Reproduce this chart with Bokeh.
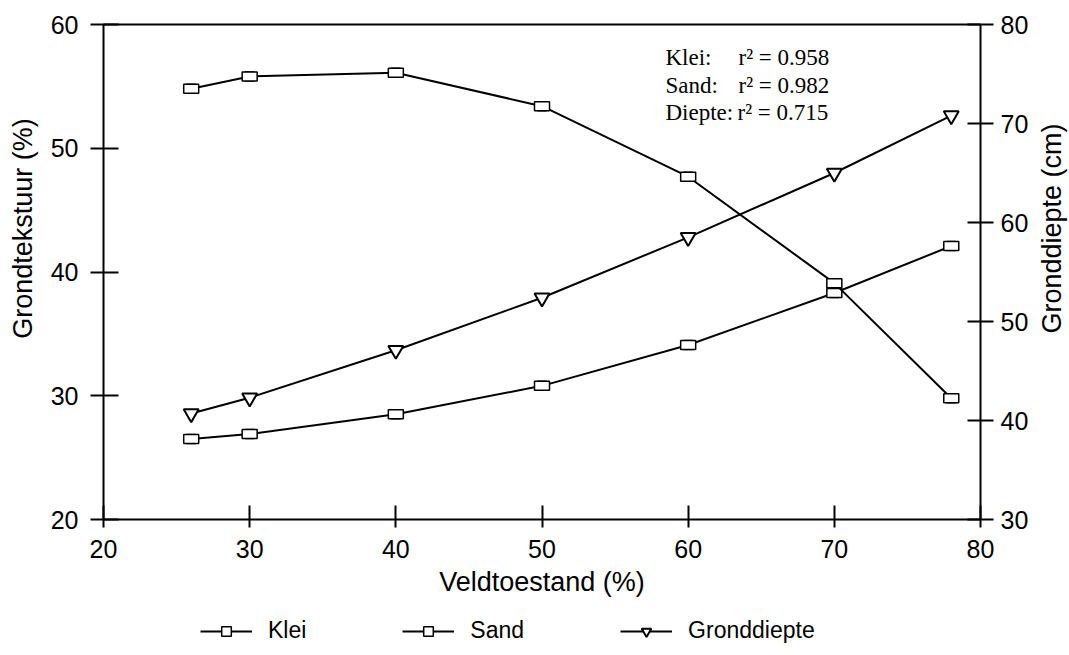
from bokeh.plotting import figure
from bokeh.models import Range1d, LinearAxis, Label, Legend, LegendItem, FixedTicker
from bokeh.embed import file_html
from bokeh.resources import INLINE

# ---- data ----
veld = [26, 30, 40, 50, 60, 70, 78]
klei = [26.5, 26.9, 28.5, 30.8, 34.1, 38.3, 42.1]
sand = [54.8, 55.8, 56.1, 53.4, 47.7, 39.1, 29.8]
diepte = [40.7, 42.3, 47.1, 52.4, 58.5, 65.0, 70.8]

x_ticks = [20, 30, 40, 50, 60, 70, 80]
left_ticks = [20, 30, 40, 50, 60]
right_ticks = [30, 40, 50, 60, 70, 80]

series_names = ["Klei", "Sand", "Gronddiepte"]
stat_names = ["Klei:", "Sand:", "Diepte:"]
stat_r2 = ["0.958", "0.982", "0.715"]

FONT = "Liberation Sans"
SERIF = "Liberation Serif"

# canvas layout: the drawn box spans x 20..80 and y 20..60 (right 30..80);
# the frame covers the whole canvas so that titles and legend are inside it.
W, H = 1068, 654
BOX_L, BOX_R, BOX_T, BOX_B = 103, 980, 24, 519
xs = (80 - 20) / (BOX_R - BOX_L)
ys = (60 - 20) / (BOX_B - BOX_T)
rs = (80 - 30) / (BOX_B - BOX_T)
x_range = Range1d(20 - BOX_L * xs, 80 + (W - BOX_R) * xs)
y_range = Range1d(20 - (H - BOX_B) * ys, 60 + BOX_T * ys)
r_range = Range1d(30 - (H - BOX_B) * rs, 80 + BOX_T * rs)


def px_x(px):
    return 20 + (px - BOX_L) * xs


def px_y(py):
    return 60 - (py - BOX_T) * ys


p = figure(width=W, height=H, x_range=x_range, y_range=y_range,
           output_backend="svg", toolbar_location=None,
           min_border_left=0, min_border_right=0, min_border_top=0, min_border_bottom=0)
p.extra_y_ranges = {"diepte": r_range}
p.add_layout(LinearAxis(y_range_name="diepte"), "right")
p.add_layout(LinearAxis(), "above")

p.xgrid.visible = False
p.ygrid.visible = False
p.outline_line_color = None
p.background_fill_color = "white"
p.border_fill_color = "white"

for ax in p.axis:
    ax.axis_line_width = 2
    ax.axis_line_color = "black"
    ax.major_tick_line_width = 2
    ax.major_tick_line_color = "black"
    ax.minor_tick_in = 0
    ax.minor_tick_out = 0
    ax.major_label_text_font = FONT
    ax.major_label_text_font_size = "25px"
    ax.major_label_text_color = "black"
    ax.axis_label_text_font = FONT
    ax.axis_label_text_font_size = "27px"
    ax.axis_label_text_font_style = "normal"
    ax.axis_label_text_color = "black"

bottom_ax = p.below[0]
top_ax = p.above[0]
left_ax = p.left[0]
right_ax = p.right[0]

bottom_ax.fixed_location = 20
bottom_ax.bounds = (20, 80)
bottom_ax.ticker = FixedTicker(ticks=x_ticks)
bottom_ax.major_tick_in = 14
bottom_ax.major_tick_out = 8
bottom_ax.major_label_standoff = 12
bottom_ax.axis_label = "Veldtoestand (%)"
bottom_ax.axis_label_standoff = 6

top_ax.fixed_location = 60
top_ax.bounds = (20, 80)
top_ax.ticker = FixedTicker(ticks=[])
top_ax.major_tick_in = 0
top_ax.major_tick_out = 0
top_ax.major_label_text_font_size = "0px"

left_ax.fixed_location = 20
left_ax.bounds = (20, 60)
left_ax.ticker = FixedTicker(ticks=left_ticks)
left_ax.major_tick_in = 15
left_ax.major_tick_out = 13
left_ax.major_label_standoff = 12

right_ax.fixed_location = 80
right_ax.bounds = (30, 80)
right_ax.ticker = FixedTicker(ticks=right_ticks)
right_ax.major_tick_in = 13
right_ax.major_tick_out = 13
right_ax.major_label_standoff = 7

# ---- series ----
k_line = p.line(veld, klei, line_color="black", line_width=2)
k_sq = p.scatter(veld, klei, marker="square", size=9, fill_color="white", line_color="black", line_width=1.5)
p.rect(veld, klei, width=15, height=9, width_units="screen", height_units="screen",
       fill_color="white", line_color="black", line_width=1.5)

s_line = p.line(veld, sand, line_color="black", line_width=2)
s_sq = p.scatter(veld, sand, marker="square", size=9, fill_color="white", line_color="black", line_width=1.5)
p.rect(veld, sand, width=15, height=9, width_units="screen", height_units="screen",
       fill_color="white", line_color="black", line_width=1.5)

d_line = p.line(veld, diepte, line_color="black", line_width=2, y_range_name="diepte")
d_tri = p.scatter(veld, diepte, marker="inverted_triangle", size=15, fill_color="white",
                  line_color="black", line_width=2, y_range_name="diepte")

legend = Legend(items=[
    LegendItem(label=series_names[0], renderers=[k_line, k_sq]),
    LegendItem(label=series_names[1], renderers=[s_line, s_sq]),
    LegendItem(label=series_names[2], renderers=[d_line, d_tri]),
], orientation="horizontal", location=(200, 10), glyph_width=52, glyph_height=24,
    label_standoff=16, spacing=96, border_line_alpha=0, background_fill_alpha=0,
    padding=0, margin=0, label_text_font=FONT, label_text_font_size="23px",
    label_text_color="black")
p.add_layout(legend, "center")

# ---- y axis titles (reading bottom-to-top) ----
p.add_layout(Label(x=px_x(22), y=px_y(228), text="Grondtekstuur (%)", angle=90,
                   angle_units="deg", text_align="center", text_baseline="middle",
                   text_font=FONT, text_font_size="27px", text_color="black"))
p.add_layout(Label(x=px_x(1051), y=px_y(228), text="Gronddiepte (cm)", angle=90,
                   angle_units="deg", text_align="center", text_baseline="middle",
                   text_font=FONT, text_font_size="27px", text_color="black"))

# ---- r² annotation ----
name_px = 665
r_px = [738, 738, 737]
row_py = [57, 85, 112]
for i in range(3):
    p.add_layout(Label(x=px_x(name_px), y=px_y(row_py[i]), text=stat_names[i], text_font=SERIF,
                       text_font_size="23px", text_baseline="middle", text_color="black"))
    p.add_layout(Label(x=px_x(r_px[i]), y=px_y(row_py[i]), text="r\u00b2 = " + stat_r2[i],
                       text_font=SERIF, text_font_size="23px", text_baseline="middle",
                       text_color="black"))

open("out.html", "w").write(file_html(p, INLINE))
